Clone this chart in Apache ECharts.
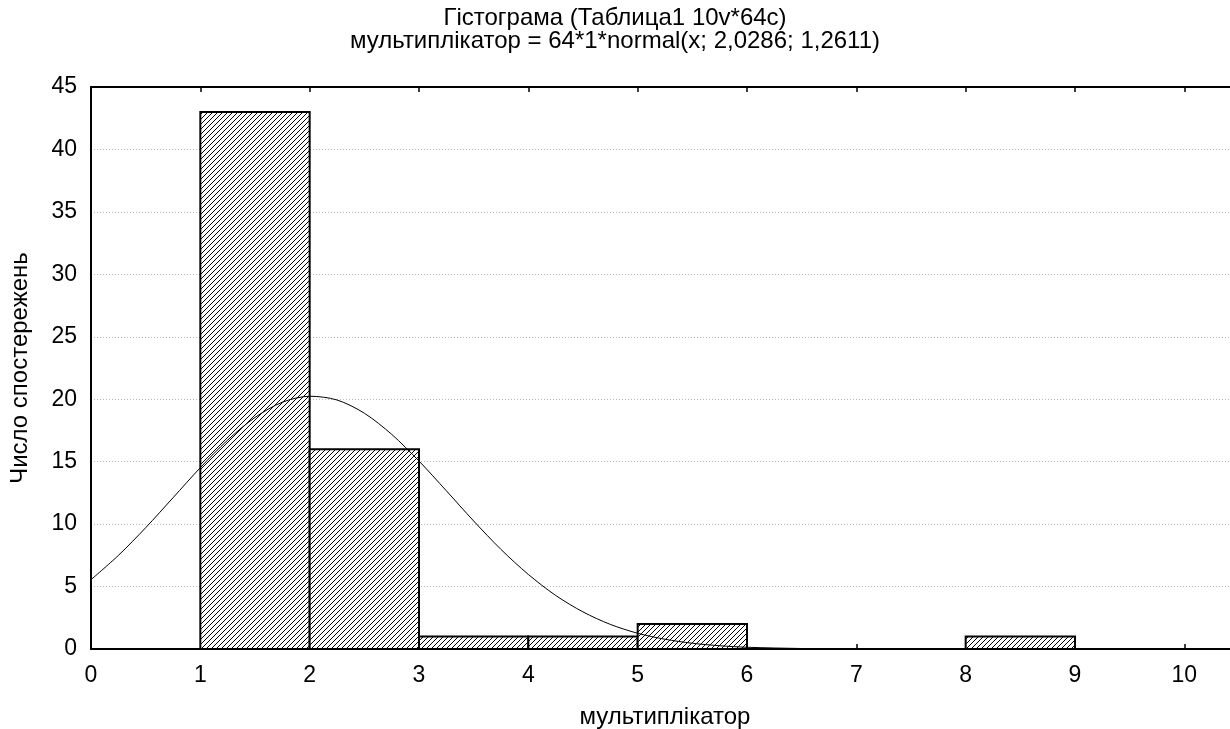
<!DOCTYPE html>
<html>
<head>
<meta charset="utf-8">
<script src="https://cdn.jsdelivr.net/npm/echarts@6/dist/echarts.min.js"></script>
<style>
html,body{margin:0;padding:0;background:#fff;}
#main{width:1230px;height:729px;}
</style>
</head>
<body>
<div id="main"></div>
<script>
// Histogram bins
const binStart = [1, 2, 3, 4, 5, 8];
const binEnd   = [2, 3, 4, 5, 6, 9];
const counts   = [43, 16, 1, 1, 2, 1];

// Fitted normal curve
const curveX = [0, 0.25, 0.5, 0.75, 1, 1.25, 1.5, 1.75, 2, 2.25, 2.5, 2.75, 3, 3.25, 3.5, 3.75, 4, 4.25, 4.5, 4.75, 5, 5.25, 5.5, 5.75, 6, 6.5, 7, 7.5, 8, 9, 10, 10.5];
const curveY = [5.55, 7.49, 9.71, 12.11, 14.52, 16.73, 18.54, 19.76, 20.24, 19.94, 18.88, 17.19, 15.05, 12.67, 10.25, 7.97, 5.97, 4.29, 2.97, 1.97, 1.26, 0.78, 0.46, 0.26, 0.14, 0.04, 0.01, 0.002, 0, 0, 0, 0];

const xTicks = [0, 1, 2, 3, 4, 5, 6, 7, 8, 9, 10];
const yTicks = [0, 5, 10, 15, 20, 25, 30, 35, 40, 45];

const titleLine1 = 'Гістограма (Таблица1 10v*64c)';
const titleLine2 = 'мультиплікатор = 64*1*normal(x; 2,0286; 1,2611)';
const xName = 'мультиплікатор';
const yName = 'Число спостережень';

// hatch pattern
const pat = document.createElement('canvas');
const S = 5;
pat.width = S; pat.height = S;
const pc = pat.getContext('2d');
pc.fillStyle = '#fff';
pc.fillRect(0, 0, S, S);
pc.strokeStyle = '#000';
pc.lineWidth = 1;
pc.beginPath();
pc.moveTo(-1, S + 1); pc.lineTo(S + 1, -1);
pc.moveTo(-1, 1); pc.lineTo(1, -1);
pc.moveTo(S - 1, S + 1); pc.lineTo(S + 1, S - 1);
pc.stroke();

const FONT = 'Liberation Sans, Arial, sans-serif';
const chart = echarts.init(document.getElementById('main'));
const binData = binStart.map((s, i) => [s, binEnd[i], counts[i]]);
const curveData = curveX.map((x, i) => [x, curveY[i]]);

chart.setOption({
  animation: false,
  title: {
    text: titleLine1 + '\n' + titleLine2,
    left: 'center',
    top: 2,
    textStyle: {fontFamily: FONT, fontSize: 24, fontWeight: 'normal', color: '#000', lineHeight: 23}
  },
  grid: {left: 91, top: 87, width: 1148, height: 562, outerBoundsMode: 'none', containLabel: false},
  xAxis: [{
    type: 'value', min: 0, max: 10.5, interval: 1, position: 'bottom',
    axisLine: {show: true, lineStyle: {color: '#000', width: 2}},
    axisTick: {show: true, inside: true, length: 5, lineStyle: {color: '#000', width: 1.5}},
    axisLabel: {fontFamily: FONT, fontSize: 23, color: '#000', margin: 15,
      formatter: v => xTicks.indexOf(v) >= 0 ? String(v) : ''},
    splitLine: {show: false},
    name: xName, nameLocation: 'middle', nameGap: 56,
    nameTextStyle: {fontFamily: FONT, fontSize: 24, color: '#000'}
  }, {
    type: 'value', min: 0, max: 10.5, interval: 1, position: 'top',
    axisLine: {show: true, lineStyle: {color: '#000', width: 2}},
    axisTick: {show: true, inside: true, length: 5, lineStyle: {color: '#000', width: 1.5}},
    axisLabel: {show: false},
    splitLine: {show: false}
  }],
  yAxis: {
    type: 'value', min: 0, max: 45, interval: 5,
    axisLine: {show: true, lineStyle: {color: '#000', width: 2}},
    axisTick: {show: false},
    axisLabel: {fontFamily: FONT, fontSize: 23, color: '#000', margin: 14,
      formatter: v => yTicks.indexOf(v) >= 0 ? String(v) : ''},
    splitLine: {show: true, lineStyle: {color: '#b8b8b8', type: [1, 2], width: 1}},
    name: yName, nameLocation: 'middle', nameGap: 59, nameRotate: 90,
    nameTextStyle: {fontFamily: FONT, fontSize: 24, color: '#000'}
  },
  series: [{
    type: 'custom',
    data: binData,
    z: 2,
    renderItem: function (params, api) {
      const p0 = api.coord([api.value(0), api.value(2)]);
      const p1 = api.coord([api.value(1), 0]);
      return {
        type: 'rect',
        shape: {x: p0[0], y: p0[1], width: p1[0] - p0[0], height: p1[1] - p0[1]},
        style: {fill: {image: pat, repeat: 'repeat'}, stroke: '#000', lineWidth: 2}
      };
    },
    encode: {x: [0, 1], y: 2}
  }, {
    type: 'line',
    data: curveData,
    z: 3,
    smooth: 0.3,
    showSymbol: false,
    symbol: 'none',
    lineStyle: {color: '#000', width: 1}
  }]
});
</script>
</body>
</html>
